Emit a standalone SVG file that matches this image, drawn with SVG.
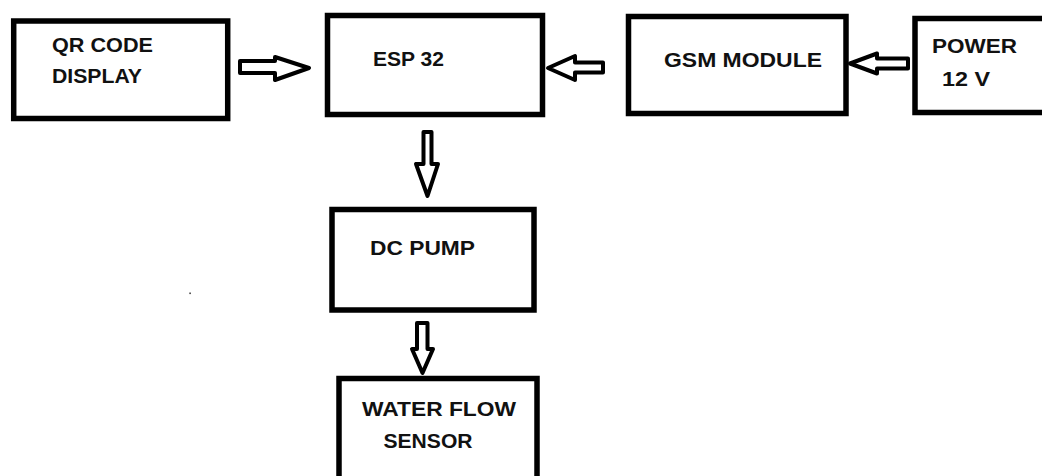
<svg xmlns="http://www.w3.org/2000/svg" width="1042" height="476" viewBox="0 0 1042 476">
<style>
.box{fill:#fff;stroke:#000;stroke-width:5.5}
.lbl{font-family:"Liberation Sans",Arial,sans-serif;font-weight:bold;font-size:21px;fill:#111}
.arr{fill:#fff;stroke:#000;stroke-width:4;stroke-linejoin:round}
</style>
<rect x="0" y="0" width="1042" height="476" fill="#fff"/>
<g id="connectors">
<polygon class="arr" points="240,61 275,61 275,57 309,68 275,80 275,73 240,73"/>
<polygon class="arr" points="548,68 575,56 575,62.5 603,62.5 603,72.5 575,72.5 575,80"/>
<polygon class="arr" points="850,63.5 877,53.5 877,58.5 908,58.5 908,68.5 877,68.5 877,73.5"/>
<polygon class="arr" points="423.5,132 431.5,132 431.5,164 438,164 427.5,196 416,164 423.5,164"/>
<polygon class="arr" points="417,323 427.5,323 427.5,349 433,349 422.5,373 412,349 417,349"/>
</g>
<g id="qr-display">
<rect class="box" x="13.7" y="21" width="214" height="97.5"/>
<text class="lbl" x="52" y="52" textLength="101" lengthAdjust="spacingAndGlyphs">QR CODE</text>
<text class="lbl" x="52" y="83" textLength="90" lengthAdjust="spacingAndGlyphs">DISPLAY</text>
</g>
<g id="esp32">
<rect class="box" x="327.5" y="15.5" width="215" height="99"/>
<text class="lbl" x="373" y="66" textLength="71" lengthAdjust="spacingAndGlyphs">ESP 32</text>
</g>
<g id="gsm-module">
<rect class="box" x="628.5" y="16.5" width="217.5" height="97"/>
<text class="lbl" x="664" y="67" textLength="158" lengthAdjust="spacingAndGlyphs">GSM MODULE</text>
</g>
<g id="power">
<rect class="box" x="915" y="18.5" width="140" height="94"/>
<text class="lbl" x="932" y="53" textLength="85" lengthAdjust="spacingAndGlyphs">POWER</text>
<text class="lbl" x="942" y="86" textLength="48" lengthAdjust="spacingAndGlyphs">12 V</text>
</g>
<g id="dc-pump">
<rect class="box" x="332" y="209.5" width="202" height="100.5"/>
<text class="lbl" x="370" y="255" textLength="105" lengthAdjust="spacingAndGlyphs">DC PUMP</text>
</g>
<g id="water-flow-sensor">
<rect class="box" x="339" y="378.5" width="198" height="120"/>
<text class="lbl" x="362" y="416" textLength="154" lengthAdjust="spacingAndGlyphs">WATER FLOW</text>
<text class="lbl" x="383.5" y="448" textLength="89" lengthAdjust="spacingAndGlyphs">SENSOR</text>
</g>
<rect x="189.3" y="292.5" width="1.6" height="1.6" fill="#444"/>
</svg>
